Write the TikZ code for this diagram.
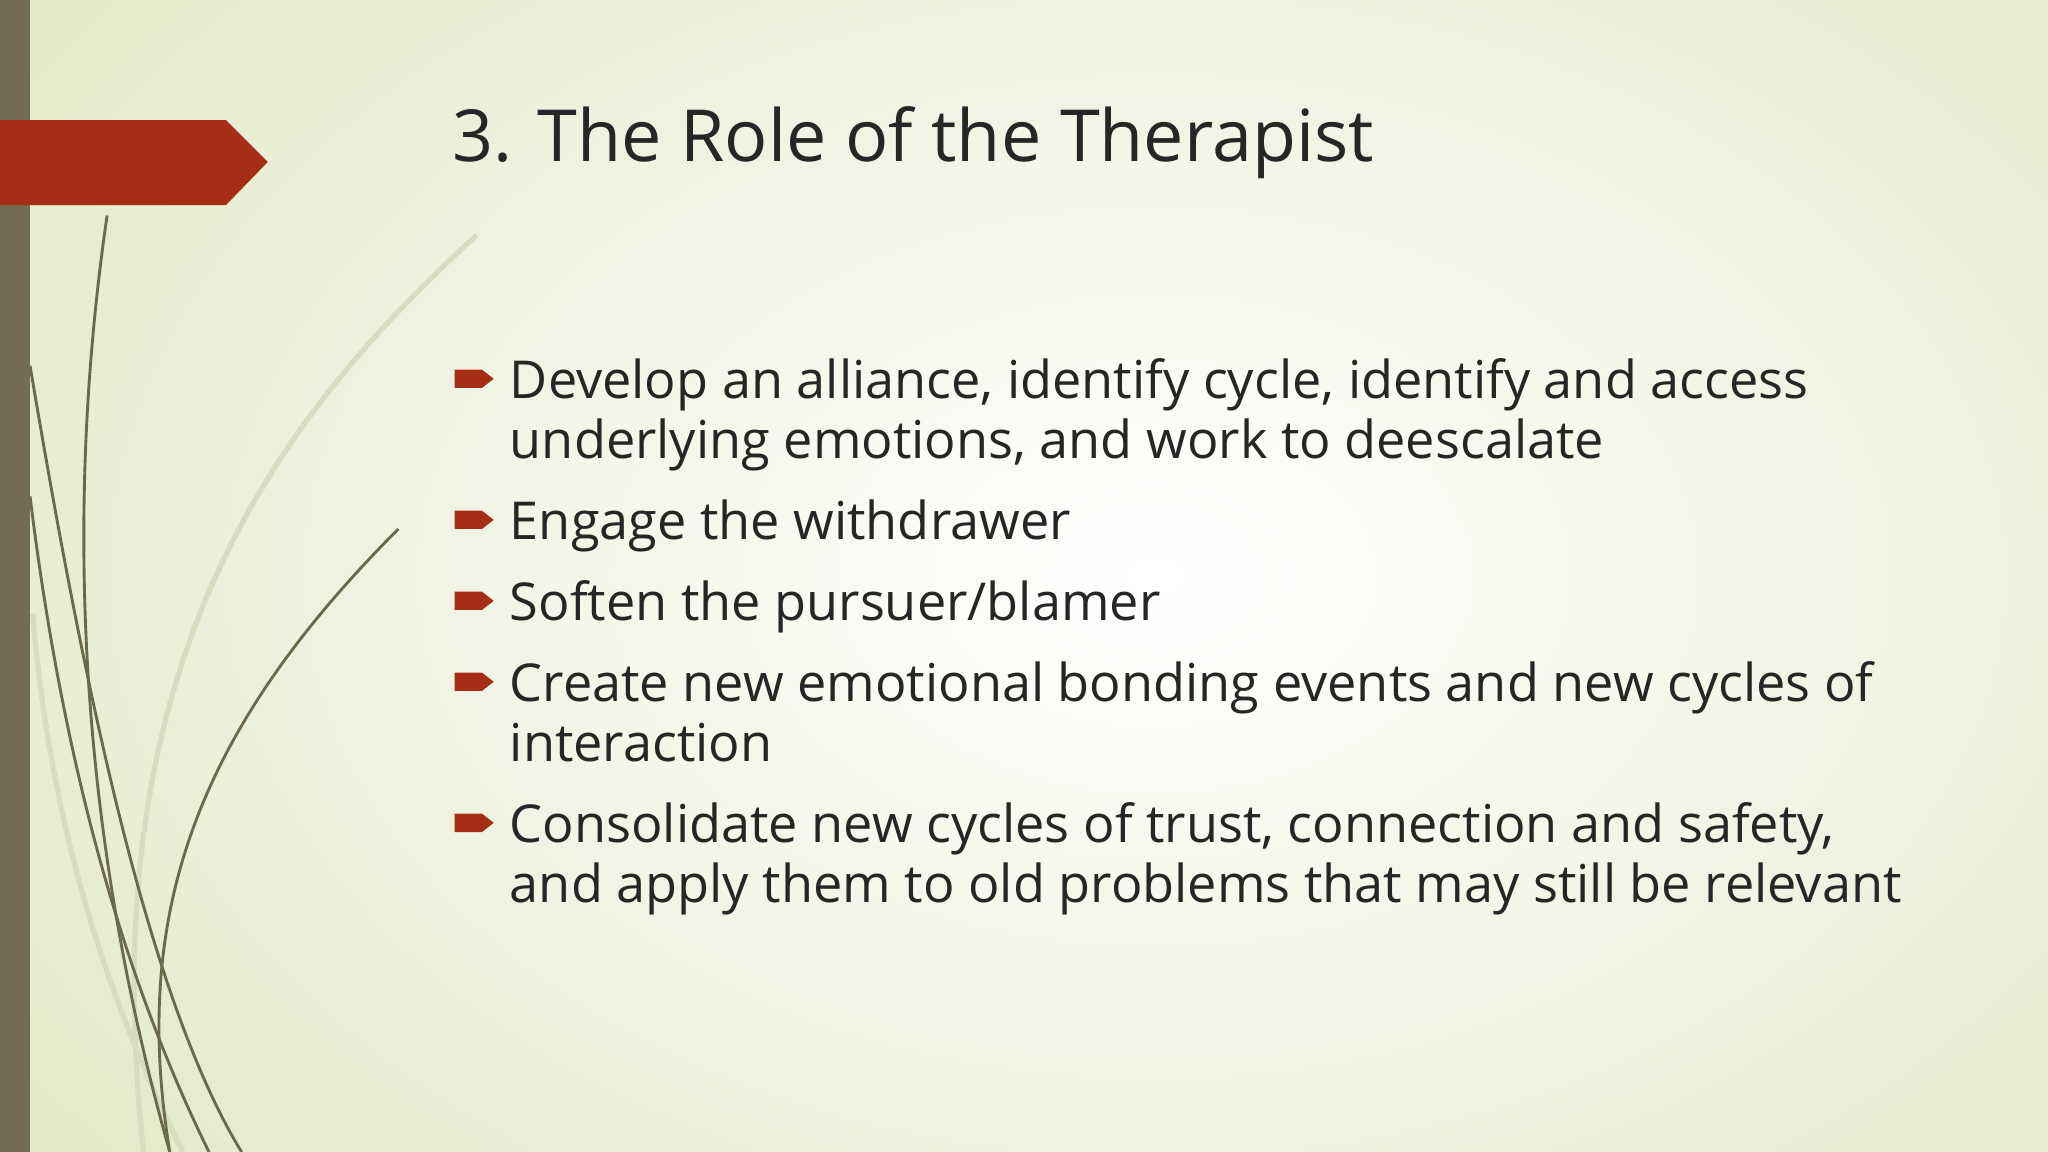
\documentclass[tikz,border=0pt]{standalone}
\usepackage{fontspec}
\setmainfont{Open Sans}
\definecolor{bgedge}{HTML}{E2E9C8}
\definecolor{barc}{HTML}{756B55}
\definecolor{redc}{HTML}{A52D15}
\definecolor{curvec}{HTML}{6B6A4C}
\definecolor{faintc}{HTML}{D8DCC0}
\begin{document}
\begin{tikzpicture}[x=0.5pt,y=-0.5pt,
  curve/.style={draw=curvec,line width=1.1pt},
  faint/.style={draw=faintc,line width=2pt},
  bul/.style={fill=redc},
  item/.style={anchor=north west,align=left,inner sep=0pt,font=\fontsize{20}{23}\selectfont,text=black!85}]
\useasboundingbox (0,0) rectangle (1568,882);
\shade[inner color=white,outer color=bgedge] (-200,-300) rectangle (1968,1182);
\clip (0,0) rectangle (1568,882);
% faint curves
\draw[faint] (365,180) .. controls (200,330) and (70,520) .. (110,882);
\draw[faint] (25,470) .. controls (40,650) and (90,780) .. (140,882);
% dark curves
\draw[curve] (82,165) .. controls (55,350) and (50,600) .. (130,882);
\draw[curve] (305,405) .. controls (150,560) and (100,700) .. (130,882);
\draw[curve] (23,280) .. controls (60,500) and (110,760) .. (185,882);
\draw[curve] (23,380) .. controls (50,600) and (100,760) .. (160,882);
% left bar
\fill[barc] (0,0) rectangle (23,882);
% red arrow
\fill[redc] (0,92) -- (173,92) -- (205,124) -- (173,157) -- (0,157) -- cycle;
\node[anchor=west,inner sep=0pt,font=\fontsize{27.5}{32}\selectfont,text=black!85] (title) at (346,109) {3. The Role of the Therapist};
\foreach \y/\n in {290/b1,398/b2,460/b3,522/b4,630/b5}{
  \fill[bul] (348,\y-7) -- (369,\y-7) -- (378,\y) -- (369,\y+7) -- (348,\y+7) -- cycle;
}
\node[item] (t1) at (390,274) {Develop an alliance, identify cycle, identify and access\\underlying emotions, and work to deescalate};
\node[item] (t2) at (390,382) {Engage the withdrawer};
\node[item] (t3) at (390,444) {Soften the pursuer/blamer};
\node[item] (t4) at (390,506) {Create new emotional bonding events and new cycles of\\interaction};
\node[item] (t5) at (390,614) {Consolidate new cycles of trust, connection and safety,\\and apply them to old problems that may still be relevant};
\end{tikzpicture}
\end{document}
